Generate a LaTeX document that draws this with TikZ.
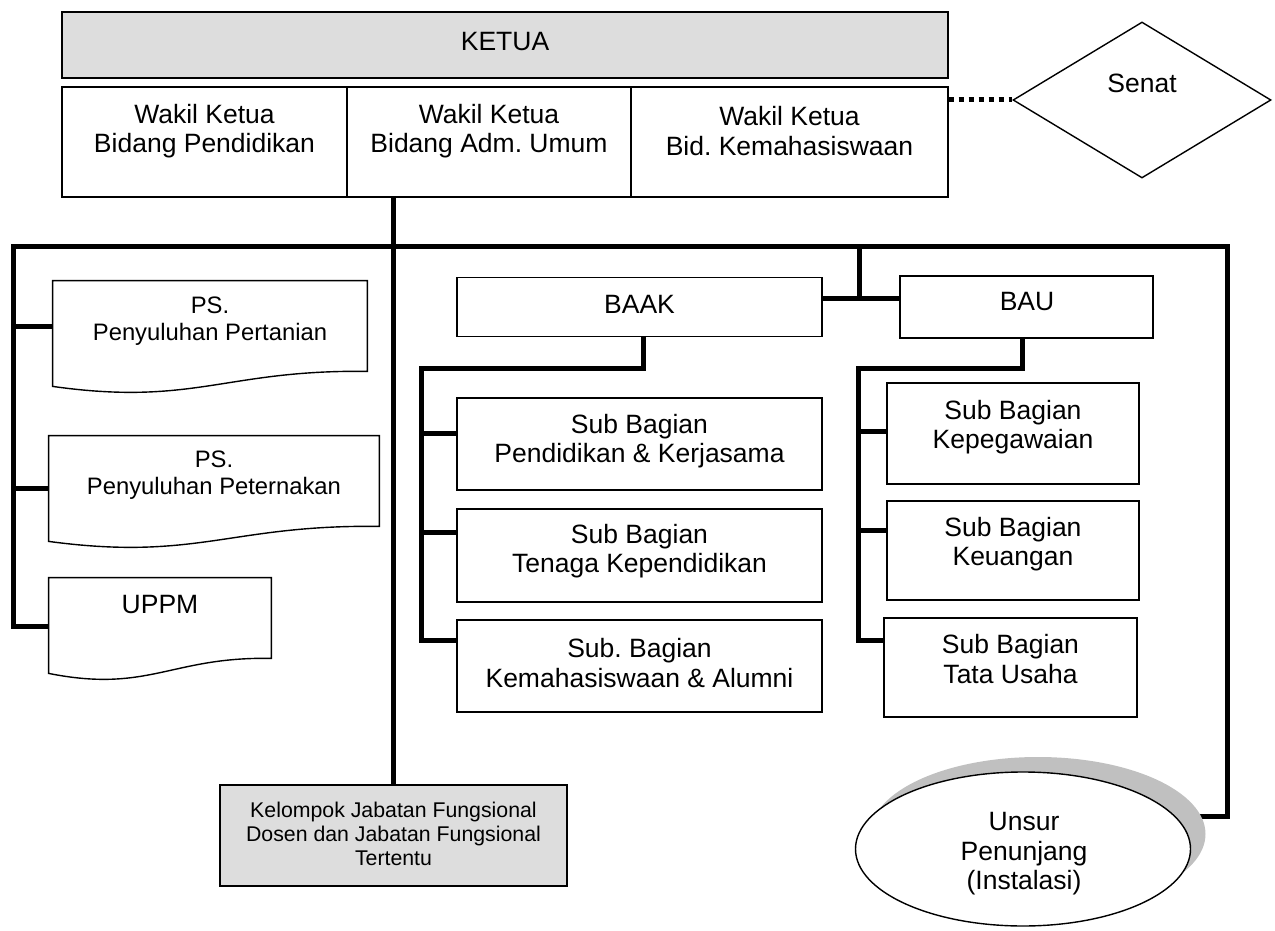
\documentclass[tikz,border=0pt]{standalone}
\usepackage{fontspec}
\setmainfont{Liberation Sans}
\usetikzlibrary{shapes.geometric,shadows,calc}
\frenchspacing

\definecolor{boxgray}{HTML}{DDDDDD}
\definecolor{shadowgray}{HTML}{C0C0C0}

\tikzset{
  unit/.style={rectangle,draw,line width=0.7pt,inner sep=0pt},
  doc/.style={rectangle,inner sep=0pt},
  txt/.style={align=center,inner sep=0pt,font=\fontsize{13.25}{14.75}\selectfont},
  doctxt/.style={align=center,inner sep=0pt,font=\fontsize{11.9}{13.5}\selectfont},
  smalltxt/.style={align=center,inner sep=0pt,font=\fontsize{10.65}{12}\selectfont},
  link/.style={line width=2.5pt},
  senatlink/.style={line width=2.5pt,dash pattern=on 2.5pt off 2.5pt}
}

\begin{document}
\begin{tikzpicture}[x=0.5pt,y=-0.5pt]
  \useasboundingbox (0,0) rectangle (1275,931);
  %top level
  \node[unit,fill=boxgray,minimum width=443pt,minimum height=33pt] (ketua) at (505,45) {};
  \node[unit,minimum width=142.5pt,minimum height=55pt] (wk1) at (204.5,142) {};
  \node[unit,minimum width=142pt,minimum height=55pt] (wk2) at (489,142) {};
  \node[unit,minimum width=158.5pt,minimum height=55pt] (wk3) at (789.5,142) {};
  \node[diamond,draw,line width=0.7pt,inner sep=0pt,minimum width=129pt,minimum height=78pt] (senat) at (1142,100) {};
  \node[txt] (ketua-t) at (505,42) {KETUA};
  \node[txt] (wk1-t) at (204.5,131) {Wakil Ketua\\Bidang Pendidikan};
  \node[txt] (wk2-t) at (489,131) {Wakil Ketua\\Bidang Adm. Umum};
  \node[txt] (wk3-t) at (789.5,131) {Wakil Ketua\\Bid. Kemahasiswaan};
  \node[txt] (senat-t) at (1142,83) {Senat};
  %program studi (document shapes)
  \node[doc,minimum width=157pt,minimum height=45pt] (psa) at (210,326) {};
  \node[doc,minimum width=165pt,minimum height=45pt] (psb) at (214,481) {};
  \node[doc,minimum width=111pt,minimum height=40pt] (uppm) at (160,618) {};
  \foreach \d in {psa,psb,uppm}
    \draw[line width=0.7pt] ([yshift=-7.5pt]\d.south west) -- (\d.north west) -- (\d.north east) -- (\d.south east)
      .. controls ($(\d.south west)!0.55!(\d.south east)+(0,-2)$) and ($(\d.south west)!0.45!(\d.south east)+(0,35)$)
      .. ([yshift=-7.5pt]\d.south west) -- cycle;
  \node[doctxt] (psa-t) at (210,321) {PS.\\Penyuluhan Pertanian};
  \node[doctxt] (psb-t) at (214,475) {PS.\\Penyuluhan Peternakan};
  \node[txt] (uppm-t) at (160,605) {UPPM};
  %biro
  \node[unit,minimum width=182.5pt,minimum height=29.5pt] (baak) at (639.5,307) {};
  \node[unit,minimum width=126.5pt,minimum height=31pt] (bau) at (1026.5,307) {};
  \node[txt] (baak-t) at (639.5,304) {BAAK};
  \node[txt] (bau-t) at (1027,302) {BAU};
  %sub bagian BAAK
  \node[unit,minimum width=182.5pt,minimum height=46pt] (sb1) at (639.5,444) {};
  \node[unit,minimum width=182.5pt,minimum height=46.5pt] (sb2) at (639.5,555.5) {};
  \node[unit,minimum width=182.5pt,minimum height=46pt] (sb3) at (639.5,666) {};
  \node[txt] (sb1-t) at (639.5,441) {Sub Bagian\\Pendidikan \& Kerjasama};
  \node[txt] (sb2-t) at (639.5,551) {Sub Bagian\\Tenaga Kependidikan};
  \node[txt] (sb3-t) at (639.5,663) {Sub. Bagian\\Kemahasiswaan \& Alumni};
  %sub bagian BAU
  \node[unit,minimum width=126pt,minimum height=50.5pt] (su1) at (1013,433.5) {};
  \node[unit,minimum width=126pt,minimum height=49.5pt] (su2) at (1013,550.5) {};
  \node[unit,minimum width=126.5pt,minimum height=49.5pt] (su3) at (1010.5,667.5) {};
  \node[txt] (su1-t) at (1013,427) {Sub Bagian\\Kepegawaian};
  \node[txt] (su2-t) at (1013,544) {Sub Bagian\\Keuangan};
  \node[txt] (su3-t) at (1010.5,659) {Sub Bagian\\Tata Usaha};
  %dosen and unsur penunjang
  \node[unit,fill=boxgray,minimum width=173.5pt,minimum height=50.5pt] (kjf) at (393.5,835.5) {};
  \node[smalltxt] (kjf-t) at (393.5,834) {Kelompok Jabatan Fungsional\\Dosen dan Jabatan Fungsional\\Tertentu};
  \coordinate (unsurin) at (1188,816);
  \coordinate (busL) at (13,246);
  \coordinate (busR) at (1227,246);
  \draw[link] ([yshift=-4pt]uppm.west) -| (busL) -- (busR) |- (unsurin);
  \node[ellipse,draw,line width=0.7pt,fill=white,inner sep=0pt,minimum width=167.5pt,minimum height=77pt,
    drop shadow={shadow xshift=7.5pt,shadow yshift=7.5pt,fill=shadowgray,opacity=1}] (unsur) at (1023,849) {};
  \node[txt] (unsur-t) at (1024,854) {Unsur\\Penunjang\\(Instalasi)};
  %connectors
  \draw[senatlink] ([yshift=21pt]wk3.east) -- (senat.west);
  \draw[link] (kjf.north |- wk2.south) -- (kjf.north);
  \draw[link] (psa.west) -- (psa.west -| busL);
  \draw[link] ([yshift=-3.5pt]psb.west) -- ++(-36,0);
  \draw[link] ([yshift=4.5pt]baak.east) -- ([yshift=4.5pt]bau.west) coordinate[pos=0.48] (bj);
  \draw[link] (bj) -- (bj |- busL);
  \coordinate (baakspine) at (421,368);
  \coordinate (bauspine) at (858,368);
  \draw[link] ([xshift=1.75pt]baak.south) |- (baakspine) |- ([yshift=13pt]sb3.west);
  \draw[link] ([yshift=5.5pt]sb1.west) -- ++(-36,0);
  \draw[link] ([yshift=11.75pt]sb2.west) -- ++(-36,0);
  \draw[link] ([xshift=-2.25pt]bau.south) |- (bauspine) |- ([yshift=13.75pt]su3.west);
  \draw[link] ([yshift=1.25pt]su1.west) -- ++(-29,0);
  \draw[link] ([yshift=10.25pt]su2.west) -- ++(-29,0);
\end{tikzpicture}
\end{document}
